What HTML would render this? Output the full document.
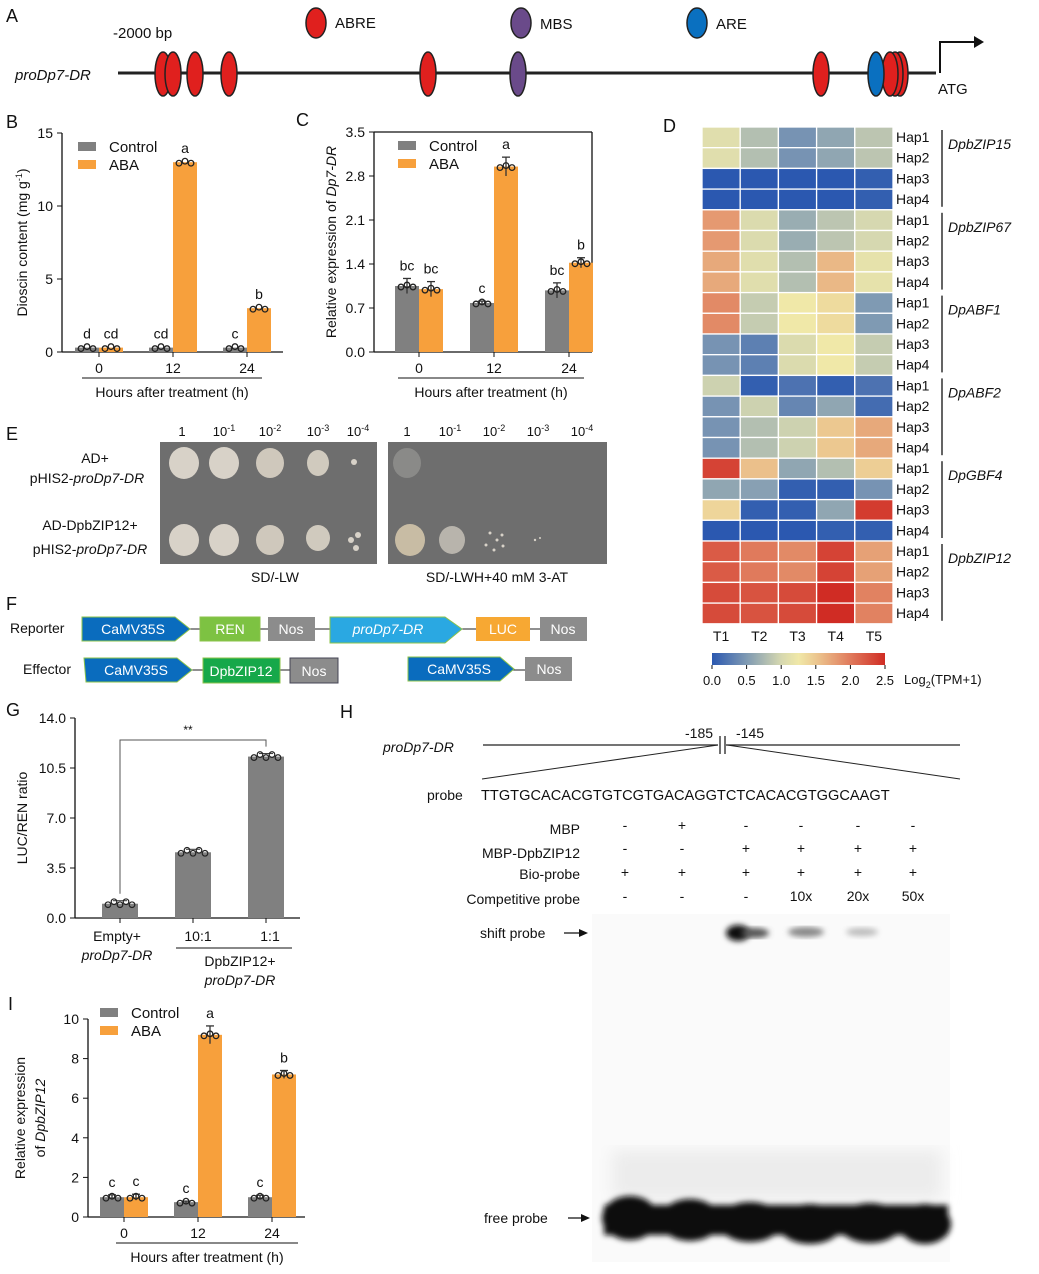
<!DOCTYPE html>
<html><head><meta charset="utf-8"><style>
body{margin:0;background:#fff}
svg{display:block;font-family:"Liberation Sans",Arial,sans-serif}
text{fill:#111}
.it{font-style:italic}
</style></head><body>
<svg id="fig" width="1039" height="1274" viewBox="0 0 1039 1274" xmlns="http://www.w3.org/2000/svg">
<defs>
<filter id="blur3"><feGaussianBlur stdDeviation="3"/></filter>
<filter id="blur6"><feGaussianBlur stdDeviation="8"/></filter>
<linearGradient id="cbar" x1="0" x2="1" y1="0" y2="0">
<stop offset="0" stop-color="#2b58b0"/><stop offset="0.2" stop-color="#7f9ab3"/><stop offset="0.4" stop-color="#d6d8b0"/><stop offset="0.5" stop-color="#f0e8a8"/><stop offset="0.6" stop-color="#ecc890"/><stop offset="0.8" stop-color="#e07a5c"/><stop offset="1" stop-color="#d02c24"/></linearGradient>
</defs>
<!-- Panel A -->
<g>
<text x="6" y="22" font-size="18">A</text>
<text x="113" y="38" font-size="15">-2000 bp</text>
<text x="15" y="80" font-size="15" class="it">proDp7-DR</text>
<line x1="118" y1="73" x2="936" y2="73" stroke="#222" stroke-width="3"/>
<g stroke="#222" stroke-width="1.5">
<ellipse cx="163" cy="74" rx="8" ry="22" fill="#e0201e"/><ellipse cx="173" cy="74" rx="8" ry="22" fill="#e0201e"/>
<ellipse cx="195" cy="74" rx="8" ry="22" fill="#e0201e"/><ellipse cx="229" cy="74" rx="8" ry="22" fill="#e0201e"/>
<ellipse cx="428" cy="74" rx="8" ry="22" fill="#e0201e"/><ellipse cx="518" cy="74" rx="8" ry="22" fill="#6a4a8a"/>
<ellipse cx="821" cy="74" rx="8" ry="22" fill="#e0201e"/>
<ellipse cx="900" cy="74" rx="8" ry="22" fill="#e0201e"/><ellipse cx="895" cy="74" rx="8" ry="22" fill="#e0201e"/><ellipse cx="890" cy="74" rx="8" ry="22" fill="#e0201e"/>
<ellipse cx="876" cy="74" rx="8" ry="22" fill="#0a70c0"/>
<ellipse cx="316" cy="23" rx="10" ry="15" fill="#e0201e"/><ellipse cx="521" cy="23" rx="10" ry="15" fill="#6a4a8a"/><ellipse cx="697" cy="23" rx="10" ry="15" fill="#0a70c0"/>
</g>
<text x="335" y="28" font-size="15">ABRE</text><text x="540" y="29" font-size="15">MBS</text><text x="716" y="29" font-size="15">ARE</text>
<polyline points="940,73 940,42 978,42" fill="none" stroke="#111" stroke-width="2"/>
<polygon points="984,42 974,36 974,48" fill="#111"/>
<text x="938" y="94" font-size="15">ATG</text>
</g>
<!-- Panel E -->
<g>
<text x="6" y="440" font-size="18">E</text>
<rect x="160" y="442" width="217" height="122" fill="#6e6e6e"/>
<rect x="388" y="442" width="219" height="122" fill="#6e6e6e"/>
<g font-size="13" text-anchor="middle">
<text x="182" y="436">1</text><text x="224" y="436">10<tspan font-size="9" dy="-5">-1</tspan></text><text x="270" y="436">10<tspan font-size="9" dy="-5">-2</tspan></text><text x="318" y="436">10<tspan font-size="9" dy="-5">-3</tspan></text><text x="358" y="436">10<tspan font-size="9" dy="-5">-4</tspan></text>
<text x="407" y="436">1</text><text x="450" y="436">10<tspan font-size="9" dy="-5">-1</tspan></text><text x="494" y="436">10<tspan font-size="9" dy="-5">-2</tspan></text><text x="538" y="436">10<tspan font-size="9" dy="-5">-3</tspan></text><text x="582" y="436">10<tspan font-size="9" dy="-5">-4</tspan></text>
<text x="95" y="463" font-size="14">AD+</text>
<text x="87" y="483" font-size="14">pHIS2-<tspan class="it">proDp7-DR</tspan></text>
<text x="90" y="530" font-size="14">AD-DpbZIP12+</text>
<text x="90" y="554" font-size="14">pHIS2-<tspan class="it">proDp7-DR</tspan></text>
<text x="275" y="582" font-size="14">SD/-LW</text>
<text x="497" y="582" font-size="14">SD/-LWH+40 mM 3-AT</text>
</g>
<g fill="#d8d2c8">
<ellipse cx="184" cy="463" rx="15" ry="16"/><ellipse cx="224" cy="463" rx="15" ry="16"/><ellipse cx="270" cy="463" rx="14" ry="15" fill="#cfc8bc"/>
<ellipse cx="318" cy="463" rx="11" ry="13" fill="#d0cabe"/><circle cx="354" cy="462" r="3"/>
<ellipse cx="184" cy="540" rx="15" ry="16"/><ellipse cx="224" cy="540" rx="15" ry="16"/><ellipse cx="270" cy="540" rx="14" ry="15" fill="#cfc8bc"/>
<ellipse cx="318" cy="538" rx="12" ry="13" fill="#d0cabe"/><circle cx="351" cy="540" r="3"/><circle cx="358" cy="535" r="3"/><circle cx="356" cy="548" r="3"/>
<ellipse cx="410" cy="540" rx="15" ry="16" fill="#c8bca4"/><ellipse cx="452" cy="540" rx="13" ry="14" fill="#b8b4ac"/>
<circle cx="490" cy="533" r="1.5"/><circle cx="497" cy="540" r="1.5"/><circle cx="486" cy="545" r="1.5"/><circle cx="502" cy="535" r="1.5"/><circle cx="494" cy="550" r="1.5"/><circle cx="503" cy="546" r="1.5"/><circle cx="535" cy="540" r="1.2"/><circle cx="540" cy="538" r="1"/>
</g>
<ellipse cx="407" cy="463" rx="14" ry="15" fill="#8a8a88"/>
</g>
<!-- Panel F -->
<g font-size="14">
<text x="6" y="610" font-size="18">F</text>
<text x="10" y="633">Reporter</text><text x="23" y="674">Effector</text>
<g stroke="#222" stroke-width="1"><line x1="180" y1="629" x2="540" y2="629"/><line x1="180" y1="670" x2="290" y2="670"/><line x1="505" y1="670" x2="525" y2="670"/></g>
<g stroke="#8bc34a" stroke-width="1">
<polygon points="82,617 175,617 190,629 175,641 82,641" fill="#0a6cbe"/>
<rect x="200" y="617" width="60" height="24" fill="#7dc242"/>
<polygon points="82,658 175,658 190,670 175,682 84,682" fill="#0a6cbe" transform="translate(2,0)"/>
<rect x="203" y="658" width="77" height="25" fill="#16a84a"/>
<polygon points="408,657 500,657 514,669 500,681 408,681" fill="#0a6cbe"/>
<polygon points="330,617 445,617 462,629 445,643 330,643" fill="#2aa8e2"/>
</g>
<rect x="268" y="617" width="47" height="24" fill="#8c8c8c"/>
<rect x="476" y="617" width="54" height="24" fill="#f7a833"/>
<rect x="540" y="617" width="47" height="24" fill="#8c8c8c"/>
<rect x="290" y="658" width="48" height="25" fill="#8c8c8c" stroke="#445" stroke-width="1"/>
<rect x="525" y="657" width="47" height="24" fill="#8c8c8c"/>
<g text-anchor="middle">
<text x="133" y="634" style="fill:#fff">CaMV35S</text><text x="230" y="634" style="fill:#fff">REN</text><text x="291" y="634" style="fill:#fff">Nos</text>
<text x="388" y="634" class="it" style="fill:#fff">proDp7-DR</text><text x="503" y="634" style="fill:#fff">LUC</text><text x="563" y="634" style="fill:#fff">Nos</text>
<text x="136" y="675" style="fill:#fff">CaMV35S</text><text x="241" y="676" style="fill:#fff">DpbZIP12</text><text x="314" y="676" style="fill:#fff">Nos</text>
<text x="459" y="674" style="fill:#fff">CaMV35S</text><text x="549" y="674" style="fill:#fff">Nos</text>
</g>
</g>
<!-- Panel H -->
<g font-size="14">
<text x="340" y="718" font-size="18">H</text>
<text x="383" y="752" class="it">proDp7-DR</text>
<line x1="483" y1="745" x2="960" y2="745" stroke="#222" stroke-width="1.2"/>
<rect x="718" y="736" width="8" height="18" fill="#fff"/>
<line x1="720" y1="736" x2="720" y2="754" stroke="#222" stroke-width="1.3"/><line x1="725" y1="736" x2="725" y2="754" stroke="#222" stroke-width="1.3"/>
<text x="685" y="738">-185</text><text x="736" y="738">-145</text>
<line x1="718" y1="745" x2="482" y2="779" stroke="#222"/><line x1="727" y1="745" x2="960" y2="779" stroke="#222"/>
<text x="427" y="800">probe</text><text x="481" y="800" font-size="14.6">TTGTGCACACGTGTCGTGACAGGTCTCACACGTGGCAAGT</text>
<g text-anchor="end"><text x="580" y="834">MBP</text><text x="580" y="858">MBP-DpbZIP12</text><text x="580" y="879">Bio-probe</text><text x="580" y="904">Competitive probe</text></g>
<g text-anchor="middle">
<text x="625" y="830">-</text><text x="682" y="830">+</text><text x="746" y="830">-</text><text x="801" y="830">-</text><text x="858" y="830">-</text><text x="913" y="830">-</text>
<text x="625" y="853">-</text><text x="682" y="853">-</text><text x="746" y="853">+</text><text x="801" y="853">+</text><text x="858" y="853">+</text><text x="913" y="853">+</text>
<text x="625" y="877">+</text><text x="682" y="877">+</text><text x="746" y="877">+</text><text x="801" y="877">+</text><text x="858" y="877">+</text><text x="913" y="877">+</text>
<text x="625" y="901">-</text><text x="682" y="901">-</text><text x="746" y="901">-</text><text x="801" y="901">10x</text><text x="858" y="901">20x</text><text x="913" y="901">50x</text>
</g>
<text x="480" y="938">shift probe</text><line x1="564" y1="933" x2="584" y2="933" stroke="#111" stroke-width="1.3"/><polygon points="588,933 579,929 579,937" fill="#111"/>
<text x="484" y="1223">free probe</text><line x1="568" y1="1218" x2="586" y2="1218" stroke="#111" stroke-width="1.3"/><polygon points="590,1218 581,1214 581,1222" fill="#111"/>
<rect x="592" y="914" width="358" height="348" fill="#fafafa"/>
<g filter="url(#blur6)" fill="#ececec"><rect x="612" y="1150" width="330" height="50"/></g>
<g filter="url(#blur3)" fill="#0a0a0a">
<ellipse cx="630" cy="1218" rx="28" ry="22"/><ellipse cx="690" cy="1220" rx="30" ry="21"/><ellipse cx="750" cy="1222" rx="32" ry="20"/>
<ellipse cx="810" cy="1224" rx="32" ry="20"/><ellipse cx="870" cy="1223" rx="32" ry="20"/><ellipse cx="925" cy="1224" rx="26" ry="20"/>
<rect x="604" y="1205" width="344" height="30"/>
<ellipse cx="738" cy="933" rx="12" ry="8"/>
</g>
<g filter="url(#blur3)"><ellipse cx="755" cy="933" rx="14" ry="5" fill="#555"/><ellipse cx="806" cy="932" rx="18" ry="5" fill="#888"/><ellipse cx="862" cy="932" rx="16" ry="4" fill="#bbb"/></g>
</g>
</svg>
<script>
const NS='http://www.w3.org/2000/svg';
const svg=document.getElementById('fig');
function mk(tag,attrs,txt,parent){const e=document.createElementNS(NS,tag);for(const k in attrs)e.setAttribute(k,attrs[k]);if(txt!==undefined)e.textContent=txt;(parent||svg).appendChild(e);return e;}

// ---- data ----
const hours=['0','12','24'];
const dioscinControl=[0.3,0.3,0.3];
const dioscinABA=[0.3,13.0,3.0];
const dioscinLetters=[['d','cd'],['cd','a'],['c','b']];
const dp7Control=[1.05,0.78,0.98];
const dp7ABA=[1.0,2.95,1.42];
const dp7Err=[[0.12,0.12],[0.03,0.15],[0.12,0.08]];
const dp7Letters=[['bc','bc'],['c','a'],['bc','b']];
const zipControl=[1.0,0.75,1.0];
const zipABA=[1.0,9.2,7.2];
const zipErr=[[0.12,0.15],[0.05,0.45],[0.1,0.2]];
const zipLetters=[['c','c'],['c','a'],['c','b']];
const lucCats=['Empty+','10:1','1:1'];
const lucValues=[1.0,4.6,11.3];
const heatCols=['T1','T2','T3','T4','T5'];
const heatGenes=['DpbZIP15','DpbZIP67','DpABF1','DpABF2','DpGBF4','DpbZIP12'];
const heatValues=[
[1.1,0.8,0.45,0.6,0.85],[1.1,0.8,0.45,0.6,0.85],[0,0,0,0,0.05],[0,0,0,0,0.05],
[1.8,1.05,0.65,0.85,1.0],[1.8,1.05,0.65,0.85,1.0],[1.7,1.1,0.8,1.6,1.15],[1.7,1.1,0.8,1.6,1.15],
[1.9,0.9,1.25,1.35,0.5],[1.9,0.9,1.25,1.35,0.5],[0.45,0.3,1.05,1.25,0.9],[0.45,0.3,1.05,1.25,0.9],
[0.95,0.05,0.2,0.05,0.2],[0.45,0.95,0.35,0.6,0.15],[0.45,0.8,0.95,1.5,1.7],[0.45,0.8,0.95,1.5,1.7],
[2.35,1.55,0.6,0.8,1.45],[0.6,0.55,0.05,0.05,0.45],[1.4,0.05,0.05,0.6,2.4],[0,0,0,0.05,0.05],
[2.2,2.0,1.9,2.35,1.75],[2.2,2.0,1.9,2.35,1.75],[2.3,2.25,2.3,2.5,1.95],[2.3,2.25,2.3,2.5,1.95]];
const cbTicks=['0.0','0.5','1.0','1.5','2.0','2.5'];

const GRAY='#808080',ORANGE='#f7a03c';

function groupedChart(o){
  const g=mk('g',{});
  
  
  const y=v=>o.y0-(v/o.max)*(o.y0-o.y1);
  mk('line',{x1:o.x0,y1:o.y1,x2:o.x0,y2:o.y0,stroke:'#111','stroke-width':1.3},undefined,g);
  mk('line',{x1:o.x0,y1:o.y0,x2:o.x2,y2:o.y0,stroke:'#111','stroke-width':1.3},undefined,g);
  if(o.box){mk('line',{x1:o.x0,y1:o.y1,x2:o.x2,y2:o.y1,stroke:'#111','stroke-width':1.3},undefined,g);mk('line',{x1:o.x2,y1:o.y1,x2:o.x2,y2:o.y0,stroke:'#111','stroke-width':1.3},undefined,g);}
  o.ticks.forEach(t=>{const yy=y(parseFloat(t));mk('line',{x1:o.x0-5,y1:yy,x2:o.x0,y2:yy,stroke:'#111'},undefined,g);mk('text',{x:o.x0-9,y:yy+5,'font-size':14,'text-anchor':'end'},t,g);});
  const bw=o.bw;
  o.cats.forEach((c,i)=>{
    const cx=o.cx[0]+i*(o.cx[1]-o.cx[0]);
    const series=[[o.ctrl,GRAY],[o.aba,ORANGE]];
    series.forEach((s,j)=>{
      const v=s[0][i];const x=cx-bw+j*bw;const b=mk('rect',{x:x,y:y(v),width:bw,height:o.y0-y(v),fill:s[1]},undefined,g);
      
      
      const e=o.err?o.err[i][j]:0.05*o.max/10;
      if(o.err){mk('line',{x1:x+bw/2,y1:y(v+e),x2:x+bw/2,y2:y(v-e),stroke:'#333','stroke-width':1.3},undefined,g);mk('line',{x1:x+bw/2-4,y1:y(v+e),x2:x+bw/2+4,y2:y(v+e),stroke:'#333','stroke-width':1.3},undefined,g);}
      [-6,0,6].forEach(d=>mk('circle',{cx:x+bw/2+d,cy:y(v)+(d===0?-1:1),r:2.8,fill:'none',stroke:'#222','stroke-width':1.3},undefined,g));
      mk('text',{x:x+bw/2,y:y(v+e)-8,'font-size':14,'text-anchor':'middle'},o.letters[i][j],g);
    });
    mk('line',{x1:cx,y1:o.y0,x2:cx,y2:o.y0+5,stroke:'#111'},undefined,g);
    mk('text',{x:cx,y:o.y0+21,'font-size':14,'text-anchor':'middle'},c,g);
  });
  mk('line',{x1:o.ul[0],y1:o.y0+26,x2:o.ul[1],y2:o.y0+26,stroke:'#111'},undefined,g);
  mk('text',{x:(o.ul[0]+o.ul[1])/2,y:o.y0+45,'font-size':14,'text-anchor':'middle'},'Hours after treatment (h)',g);
  mk('rect',{x:o.lx,y:o.ly-10,width:18,height:9,fill:GRAY},undefined,g);
  mk('rect',{x:o.lx,y:o.ly+8,width:18,height:9,fill:ORANGE},undefined,g);
  mk('text',{x:o.lx+31,y:o.ly,'font-size':15},'Control',g);
  mk('text',{x:o.lx+31,y:o.ly+18,'font-size':15},'ABA',g);
  const yl=mk('text',{transform:`translate(${o.ylx},${(o.y0+o.y1)/2}) rotate(-90)`,'font-size':14,'text-anchor':'middle'},undefined,g);
  yl.innerHTML=o.ylab;
  mk('text',{x:o.px,y:o.py,'font-size':18},o.letter,g);
  return g;
}
groupedChart({name:'panel-b-dioscin-chart',letter:'B',px:6,py:128,x0:62,x2:283,y0:352,y1:133,max:15,ticks:['0','5','10','15'],cats:hours,cx:[99,173],bw:24,ctrl:dioscinControl,aba:dioscinABA,letters:dioscinLetters,ul:[82,262],lx:78,ly:152,ylx:27,ylab:'Dioscin content (mg g<tspan font-size="9" dy="-5">-1</tspan><tspan dy="5">)</tspan>'});
groupedChart({name:'panel-c-dp7-expression-chart',letter:'C',px:296,py:126,x0:374,x2:592,y0:352,y1:132,max:3.5,ticks:['0.0','0.7','1.4','2.1','2.8','3.5'],cats:hours,cx:[419,494],bw:24,box:true,ctrl:dp7Control,aba:dp7ABA,err:dp7Err,letters:dp7Letters,ul:[398,584],lx:398,ly:151,ylx:336,ylab:'Relative expression of <tspan class="it">Dp7-DR</tspan>'});
groupedChart({name:'panel-i-dpbzip12-expression-chart',letter:'I',px:8,py:1010,x0:88,x2:305,y0:1217,y1:1019,max:10,ticks:['0','2','4','6','8','10'],cats:hours,cx:[124,198],bw:24,ctrl:zipControl,aba:zipABA,err:zipErr,letters:zipLetters,ul:[116,298],lx:100,ly:1018,ylx:25,ylab:'Relative expression'});
mk('text',{transform:'translate(45,1118) rotate(-90)','font-size':14,'text-anchor':'middle'},'of ').appendChild(Object.assign(document.createElementNS(NS,'tspan'),{textContent:'DpbZIP12'})).setAttribute('font-style','italic');

// ---- Panel G ----
(function(){
  const g=mk('g',{});
  
  
  const x0=75,y0=918,y1=718,max=14;const y=v=>y0-v/max*(y0-y1);
  mk('text',{x:6,y:716,'font-size':18},'G',g);
  mk('line',{x1:x0,y1:y1,x2:x0,y2:y0,stroke:'#111','stroke-width':1.3},undefined,g);
  mk('line',{x1:x0,y1:y0,x2:300,y2:y0,stroke:'#111','stroke-width':1.3},undefined,g);
  ['0.0','3.5','7.0','10.5','14.0'].forEach(t=>{const yy=y(parseFloat(t));mk('line',{x1:x0-5,y1:yy,x2:x0,y2:yy,stroke:'#111'},undefined,g);mk('text',{x:x0-9,y:yy+5,'font-size':14,'text-anchor':'end'},t,g);});
  const cx=[120,193,266];
  lucCats.forEach((c,i)=>{const v=lucValues[i];
    const b=mk('rect',{x:cx[i]-18,y:y(v),width:36,height:y0-y(v),fill:GRAY},undefined,g);
    
    
    mk('line',{x1:cx[i]-7,y1:y(v)-3,x2:cx[i]+7,y2:y(v)-3,stroke:'#333'},undefined,g);
    [-12,-6,0,6,12].forEach((d,k)=>mk('circle',{cx:cx[i]+d,cy:y(v)+(k%2?-2:1),r:2.8,fill:'none',stroke:'#222','stroke-width':1.2},undefined,g));
    mk('line',{x1:cx[i],y1:y0,x2:cx[i],y2:y0+5,stroke:'#111'},undefined,g);
  });
  mk('polyline',{points:`${cx[0]},${y(lucValues[0])-10} ${cx[0]},740 ${cx[2]},740 ${cx[2]},${y(lucValues[2])-10}`,fill:'none',stroke:'#555'},undefined,g);
  mk('text',{x:188,y:734,'font-size':12,'text-anchor':'middle'},'**',g);
  mk('text',{x:117,y:941,'font-size':14,'text-anchor':'middle'},'Empty+',g);
  mk('text',{x:117,y:960,'font-size':14,'text-anchor':'middle','font-style':'italic'},'proDp7-DR',g);
  mk('text',{x:198,y:941,'font-size':14,'text-anchor':'middle'},lucCats[1],g);
  mk('text',{x:270,y:941,'font-size':14,'text-anchor':'middle'},lucCats[2],g);
  mk('line',{x1:176,y1:948,x2:292,y2:948,stroke:'#111'},undefined,g);
  mk('text',{x:240,y:966,'font-size':14,'text-anchor':'middle'},'DpbZIP12+',g);
  mk('text',{x:240,y:985,'font-size':14,'text-anchor':'middle','font-style':'italic'},'proDp7-DR',g);
  mk('text',{transform:'translate(27,818) rotate(-90)','font-size':14,'text-anchor':'middle'},'LUC/REN ratio',g);
})();

// ---- Panel D heatmap ----
(function(){
  const g=mk('g',{});
  
  
  mk('text',{x:663,y:132,'font-size':18},'D',g);
  const stops=[[0,[43,88,176]],[0.5,[127,154,179]],[1.0,[214,216,176]],[1.25,[240,232,168]],[1.5,[236,200,144]],[2.0,[224,122,92]],[2.5,[208,44,36]]];
  function col(v){for(let i=1;i<stops.length;i++){if(v<=stops[i][0]){const a=stops[i-1],b=stops[i];const t=(v-a[0])/(b[0]-a[0]);return 'rgb('+a[1].map((c,k)=>Math.round(c+(b[1][k]-c)*t)).join(',')+')';}}return 'rgb(208,44,36)';}
  const x0=702,y0=127,cw=38.2,rh=20.7;
  heatValues.forEach((row,r)=>{row.forEach((v,c)=>{
    const cell=mk('rect',{x:x0+c*cw,y:y0+r*rh,width:cw,height:rh,fill:col(v),stroke:'#fff','stroke-width':1.3},undefined,g);
    
    
  });
  mk('text',{x:896,y:y0+r*rh+15,'font-size':14},'Hap'+(r%4+1),g);});
  heatGenes.forEach((n,i)=>{const top=y0+i*4*rh;mk('line',{x1:942,y1:top+3,x2:942,y2:top+4*rh-3,stroke:'#111','stroke-width':1.3},undefined,g);
    mk('text',{x:948,y:top+22,'font-size':14,'font-style':'italic'},n,g);});
  heatCols.forEach((c,i)=>mk('text',{x:x0+i*cw+cw/2,y:641,'font-size':14,'text-anchor':'middle'},c,g));
  mk('rect',{x:712,y:653,width:173,height:12,fill:'url(#cbar)'},undefined,g);
  cbTicks.forEach((t,i)=>{const x=712+i*173/5;mk('line',{x1:x,y1:665,x2:x,y2:669,stroke:'#111'},undefined,g);mk('text',{x:x,y:685,'font-size':13,'text-anchor':'middle'},t,g);});
  const lt=mk('text',{x:904,y:684,'font-size':13},undefined,g);lt.innerHTML='Log<tspan font-size="9" dy="4">2</tspan><tspan dy="-4">(TPM+1)</tspan>';
})();
</script>
</body></html>
